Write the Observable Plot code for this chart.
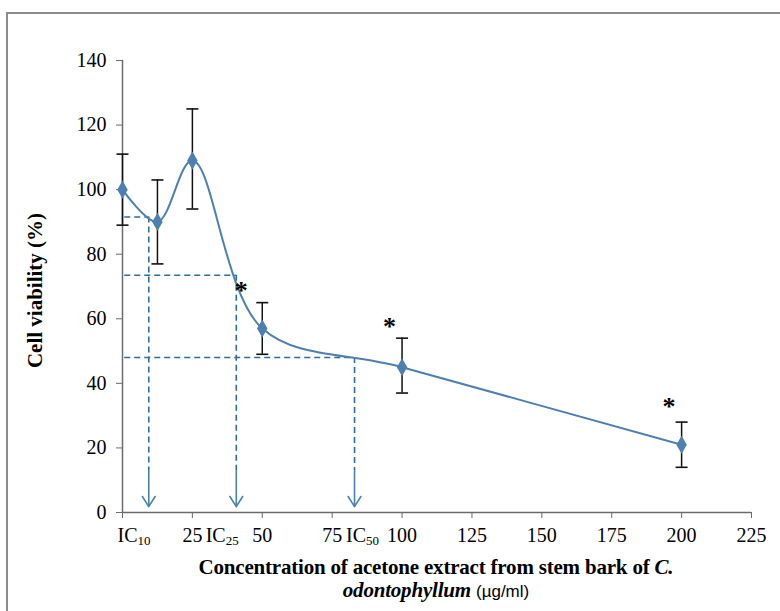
<!DOCTYPE html>
<html><head><meta charset="utf-8">
<script src="https://cdn.jsdelivr.net/npm/d3@7"></script>
<script src="https://cdn.jsdelivr.net/npm/@observablehq/plot@0.6"></script>
<style>
body{margin:0;background:#fff;}
#wrap{position:relative;width:780px;height:611px;overflow:hidden;background:#fff;}
#frame{position:absolute;left:6px;top:12px;width:900px;height:800px;border-left:2px solid #8c8c8c;border-top:2px solid #8c8c8c;pointer-events:none;}
#chart{position:absolute;left:0;top:0;}
#chart g[aria-label$="tick label"]{font-size:20px;}
#xtitle{position:absolute;left:0;top:556px;width:872px;text-align:center;font-family:"Liberation Serif",serif;font-size:21px;font-weight:bold;line-height:23px;color:#000;letter-spacing:-0.2px;}
#xtitle .u{font-weight:normal;font-family:"Liberation Sans",sans-serif;font-size:17px;letter-spacing:0;}
</style></head>
<body>
<div id="wrap"><div id="chart"></div><div id="frame"></div>
<div id="xtitle">Concentration of acetone extract from stem bark of <i>C.</i><br><i>odontophyllum</i> <span class="u">(µg/ml)</span></div>
</div>
<script>
// data
const conc = [0, 12.5, 25, 50, 100, 200];
const viability = [100, 90, 109, 57, 45, 21];
const errLow = [89, 77, 94, 49, 37, 14];
const errHigh = [111, 103, 125, 65, 54, 28];
const icNames = ["IC", "IC", "IC"];
const icSubs = ["10", "25", "50"];
const icConc = [9.4, 40.7, 83];
const icViab = [91.5, 73.5, 48];
const icLabelAt = [5.4, 36.9, 87.1];
const sigConc = [42.5, 95.5, 195.5];
const sigViab = [69, 58, 33];
const xTicks = [0, 25, 50, 75, 100, 125, 150, 175, 200, 225];
const yTicks = [0, 20, 40, 60, 80, 100, 120, 140];

const pts = conc.map((c, i) => ({c, v: viability[i], lo: errLow[i], hi: errHigh[i]}));
const ics = icConc.map((c, i) => ({c, v: icViab[i], name: icNames[i], sub: icSubs[i], at: icLabelAt[i]}));
const sig = sigConc.map((c, i) => ({c, v: sigViab[i]}));

const cap = {draw(ctx) { ctx.moveTo(-6, 0); ctx.lineTo(6, 0); }};
const lineColor = "#4f7fb0";
const dashColor = "#2f6d99";
const axisColor = "#6b6b6b";

const chart = Plot.plot({
  width: 780, height: 611,
  marginLeft: 122, marginRight: 29, marginTop: 60, marginBottom: 99,
  style: {fontFamily: "'Liberation Serif', serif", fontSize: "20px", color: "#000", background: "white"},
  x: {domain: [0, 225], ticks: xTicks},
  y: {domain: [0, 140], ticks: yTicks},
  marks: [
    Plot.axisY({ticks: yTicks, tickSize: 6, tickPadding: 10, label: null, stroke: axisColor}),
    Plot.axisX({ticks: xTicks, tickSize: 6, tickPadding: 9, label: null, stroke: axisColor,
      tickFormat: d => d === 0 ? "" : d}),
    Plot.ruleX([0], {y1: 0, y2: 140, stroke: axisColor, strokeWidth: 1.5}),
    Plot.ruleY([0], {x1: 0, x2: 225, stroke: axisColor, strokeWidth: 1.5}),
    // IC guide lines
    Plot.ruleY(ics, {y: "v", x1: 0.8, x2: "c", stroke: dashColor, strokeWidth: 1.5, strokeDasharray: "6,4"}),
    Plot.ruleX(ics, {x: "c", y1: "v", y2: 13, stroke: dashColor, strokeWidth: 1.6, strokeDasharray: "6,4"}),
    Plot.arrow(ics, {x1: "c", x2: "c", y1: 13, y2: 1.8, stroke: "#4a82ad", strokeWidth: 1.6, headLength: 14, headAngle: 64, insetEnd: 0}),
    // smooth line
    Plot.line(pts, {x: "c", y: "v", curve: "catmull-rom", stroke: lineColor, strokeWidth: 2}),
    // error bars
    Plot.ruleX(pts, {x: "c", y1: "lo", y2: "hi", stroke: "#111", strokeWidth: 1.5}),
    Plot.dot(pts, {x: "c", y: "lo", symbol: cap, r: 6, stroke: "#111", strokeWidth: 1.6, fill: "none"}),
    Plot.dot(pts, {x: "c", y: "hi", symbol: cap, r: 6, stroke: "#111", strokeWidth: 1.6, fill: "none"}),
    Plot.dot(pts, {x: "c", y: "v", symbol: "diamond", r: 5.5, fill: lineColor, stroke: null}),
    // significance asterisks
    Plot.text(sig, {x: "c", y: "v", text: () => "*", fontSize: 26, fontWeight: "bold", fill: "#000", dy: 1}),
    // IC labels on x axis
    Plot.text(ics, {x: "at", y: 0, text: "name", textAnchor: "end", dy: 23.5, fontSize: 20, fill: "#000"}),
    Plot.text(ics, {x: "at", y: 0, text: "sub", textAnchor: "start", dy: 28, fontSize: 13, fill: "#000"}),
    // y axis title
    Plot.text(["Cell viability (%)"], {frameAnchor: "left", textAnchor: "middle", dx: -87, dy: 4, rotate: -90, fontSize: 21, fontWeight: "bold", fill: "#000", letterSpacing: 0.8})
  ]
});
document.getElementById("chart").appendChild(chart);
</script>
</body></html>
